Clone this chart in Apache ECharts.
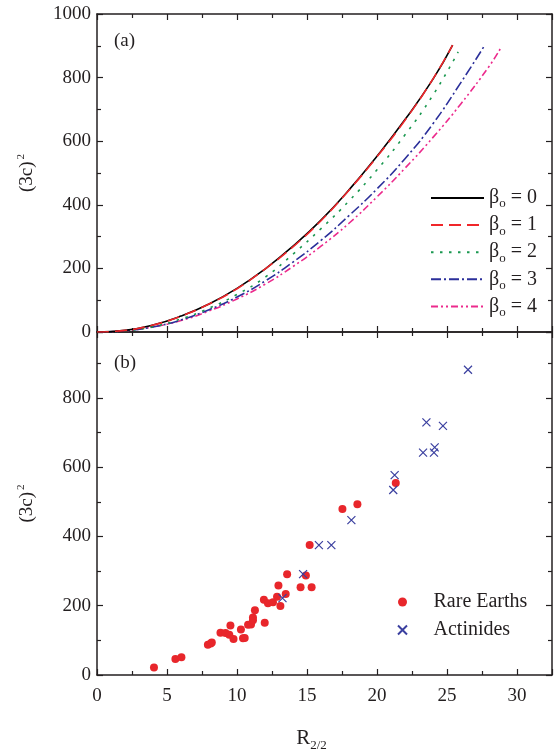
<!DOCTYPE html>
<html><head><meta charset="utf-8">
<script src="https://cdn.jsdelivr.net/npm/echarts@6/dist/echarts.min.js"></script>
<style>html,body{margin:0;padding:0;background:#fff}#c{width:555px;height:753px}</style>
</head><body><div id="c"></div>
<script>
// ---- data ----
const betaLabels = ['0', '1', '2', '3', '4'];
const beta0 = [[0,0],[2,5],[4,22],[6,50],[8,88],[10,137],[12,198],[14,270],[16,352],[18,447],[20,553],[22,668],[24,795],[25.4,902]];
const beta1 = [[0,0],[2,5],[4,22],[6,50],[8,88],[10,136],[12,198],[14,268],[16,350],[18,446],[20,551],[22,666],[24,796],[25.4,902]];
const beta2 = [[0,0],[2,4],[4,17],[6,41],[8,75],[10,118],[12,172],[14,245],[16,325],[18,412],[20,510],[22,620],[24,745],[25.8,881]];
const beta3 = [[0,0],[2,4],[4,16],[6,38],[8,70],[10,110],[12,160],[14,220],[16,288],[18,366],[20,450],[22,545],[24,655],[26,785],[27.7,902]];
const beta4 = [[0,0],[2,4],[4,16],[6,36],[8,66],[10,104],[12,150],[14,206],[16,270],[18,342],[20,425],[22,515],[24,612],[26,718],[28,835],[28.8,890]];
const rareEarths = [[4.07,22],[5.6,46],[6.03,51],[7.92,87],[8.12,91],[8.2,94],[8.82,122],[9.18,121],[9.45,116],[9.53,143],[9.75,104],[10.28,131],[10.43,106],[10.55,107],[10.79,145],[11.0,146],[11.14,158],[11.14,166],[11.28,187],[11.92,217],[11.98,151],[12.21,207],[12.57,210],[12.86,226],[12.96,258],[13.1,199],[13.48,234],[13.58,291],[14.54,253],[14.92,287],[15.19,375],[15.33,253],[17.53,479],[18.6,493],[21.34,554]];
const actinides = [[13.25,222],[14.72,291],[15.85,375],[16.74,375],[18.17,447],[21.16,534],[21.26,577],[23.29,642],[24.07,642],[24.12,657],[23.53,729],[24.71,719],[26.5,881]];
const xTicksMax = 32.5;

// ---- chart ----
const FONT = 'Liberation Serif';
const INK = '#231f20';
const chart = echarts.init(document.getElementById('c'), null, {renderer: 'canvas'});

function xAx(grid, pos, labels, extra) {
  return Object.assign({
    type: 'value', gridIndex: grid, position: pos, min: 0, max: xTicksMax, interval: 5,
    axisLine: {show: true, onZero: false, lineStyle: {color: INK, width: 1.5}},
    axisTick: {show: true, inside: true, length: 6, lineStyle: {color: INK, width: 1.2}},
    minorTick: {show: true, splitNumber: 2, length: 4, lineStyle: {color: INK, width: 1.2}},
    splitLine: {show: false},
    axisLabel: {show: labels, showMaxLabel: false, fontFamily: FONT, fontSize: 19, color: INK, margin: 12,
      formatter: v => String(v)}
  }, extra || {});
}
function yAx(grid, pos, labels, max, extra) {
  return Object.assign({
    type: 'value', gridIndex: grid, position: pos, min: 0, max: max, interval: 200,
    axisLine: {show: true, onZero: false, lineStyle: {color: INK, width: 1.5}},
    axisTick: {show: true, inside: true, length: 6, lineStyle: {color: INK, width: 1.2}},
    minorTick: {show: true, splitNumber: 2, length: 4, lineStyle: {color: INK, width: 1.2}},
    splitLine: {show: false},
    axisLabel: {show: labels, showMaxLabel: max === 1000, fontFamily: FONT, fontSize: 19, color: INK, margin: 6,
      formatter: v => String(v)}
  }, extra || {});
}
const yName = {
  name: '{a|(3c)}{s|2}', nameLocation: 'middle', nameGap: 58,
  nameTextStyle: {rich: {a: {fontFamily: FONT, fontSize: 19, color: INK}, s: {fontFamily: FONT, fontSize: 11, color: INK, padding: [0, 0, 12, 2]}}}
};

const lineColors = ['#000000', '#f0262a', '#1a9850', '#2b2f9a', '#ec2a8c'];
const lineDash = ['solid', [12, 6], [2.5, 6.5], [10, 3, 2, 3], [7, 3, 2, 3, 2, 3]];
const curves = [beta0, beta1, beta2, beta3, beta4];
const lineSeries = curves.map((d, i) => ({
  name: 'β' + betaLabels[i], type: 'line', xAxisIndex: 0, yAxisIndex: 0, data: d,
  smooth: true, symbol: 'none', z: 10 - i + (i === 1 ? 5 : 0),
  lineStyle: {color: lineColors[i], width: 1.6, type: lineDash[i]},
  itemStyle: {color: lineColors[i]}
}));

chart.setOption({
  animation: false,
  backgroundColor: '#ffffff',
  grid: [
    {left: 97, right: 3, top: 14, height: 318},
    {left: 97, right: 3, top: 332, height: 344}
  ],
  xAxis: [
    xAx(0, 'bottom', false),
    xAx(0, 'top', false),
    xAx(1, 'bottom', true, {
      name: '{r|R}{s|2/2}', nameLocation: 'middle', nameGap: 50,
      nameTextStyle: {padding: [0, 26, 0, 0], rich: {r: {fontFamily: FONT, fontSize: 21, color: INK}, s: {fontFamily: FONT, fontSize: 13, color: INK, padding: [14, 0, 0, 0]}}}
    }),
    xAx(1, 'top', false)
  ],
  yAxis: [
    yAx(0, 'left', true, 1000, yName),
    yAx(0, 'right', false, 1000),
    yAx(1, 'left', true, 990, yName),
    yAx(1, 'right', false, 990)
  ],
  legend: [
    {
      data: lineSeries.map(s => s.name), orient: 'vertical', left: 430, top: 188, padding: 0,
      itemWidth: 53, itemHeight: 14, itemGap: 4.6, selectedMode: false,
      itemStyle: {opacity: 0},
      formatter: n => '{b|β}{s|o}{b| = ' + n.slice(1) + '}',
      textStyle: {rich: {b: {fontFamily: FONT, fontSize: 20, color: INK}, s: {fontFamily: FONT, fontSize: 13, color: INK, padding: [12, 0, 0, 0]}}}
    },
    {
      data: ['Rare Earths', 'Actinides'], orient: 'vertical', left: 397, top: 592, padding: 0,
      itemWidth: 52, itemHeight: 9, itemGap: 8, selectedMode: false,
      textStyle: {fontFamily: FONT, fontSize: 20, color: INK}
    }
  ],
  graphic: [
    {type: 'text', left: 114, top: 32, style: {text: '(a)', font: '19px "Liberation Serif"', fill: INK}},
    {type: 'text', left: 114, top: 354, style: {text: '(b)', font: '19px "Liberation Serif"', fill: INK}}
  ],
  series: lineSeries.concat([
    {
      name: 'Rare Earths', type: 'scatter', xAxisIndex: 2, yAxisIndex: 2, data: rareEarths,
      symbol: 'circle', symbolSize: 8, itemStyle: {color: '#e8262b', opacity: 1}, z: 5
    },
    {
      name: 'Actinides', type: 'scatter', xAxisIndex: 2, yAxisIndex: 2, data: actinides,
      symbol: 'path://M0,0L10,10M10,0L0,10', symbolSize: 8, symbolKeepAspect: true,
      itemStyle: {color: 'transparent', borderColor: '#3a3f9f', borderWidth: 1.2, opacity: 1}, z: 6
    }
  ])
});
</script></body></html>
